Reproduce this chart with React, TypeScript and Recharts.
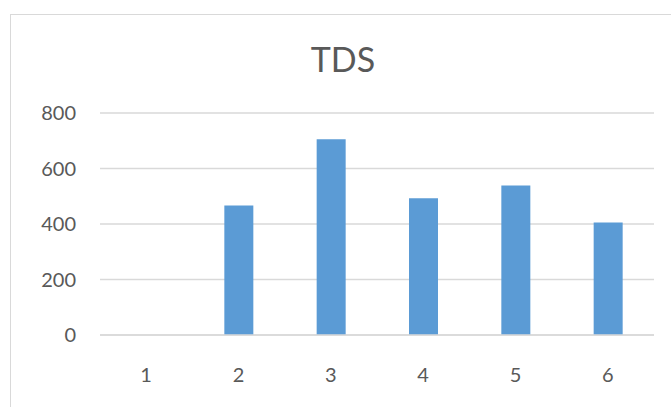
import { BarChart, Bar, XAxis, YAxis, CartesianGrid } from 'recharts';

const categories = ['1', '2', '3', '4', '5', '6'];
const tdsValues = [0, 467, 705, 493, 539, 405];
const yTicks = [0, 200, 400, 600, 800];

const data = categories.map((name, i) => ({ name, tds: tdsValues[i] }));

const FONT = 'Lato, "Open Sans", sans-serif';
const TEXT = '#595959';
const LINE = '#d9d9d9';

export default function App() {
  return (
    <div
      style={{
        position: 'absolute',
        left: 0,
        top: 0,
        width: 671,
        height: 407,
        background: '#ffffff',
        overflow: 'hidden',
        fontFamily: FONT,
      }}
    >
      {/* chart frame, only top and left edges are visible in the crop */}
      <div
        style={{
          position: 'absolute',
          left: 10,
          top: 14,
          width: 700,
          height: 420,
          borderLeft: `1.5px solid ${LINE}`,
          borderTop: `1.5px solid ${LINE}`,
        }}
      />
      <div
        style={{
          position: 'absolute',
          left: 0,
          width: 686,
          top: 39,
          textAlign: 'center',
          fontSize: 34,
          color: TEXT,
          lineHeight: '40px',
        }}
      >
        TDS
      </div>
      <BarChart
        width={671}
        height={407}
        data={data}
        margin={{ top: 113, right: 17, left: 0, bottom: 0 }}
        style={{ position: 'absolute', left: 0, top: 0 }}
      >
        <CartesianGrid vertical={false} stroke={LINE} strokeWidth={1.5} />
        <XAxis
          dataKey="name"
          height={72}
          axisLine={{ stroke: LINE, strokeWidth: 1.5 }}
          tickLine={false}
          tickSize={0}
          tickMargin={33}
          tick={{ fill: TEXT, fontSize: 20, fontFamily: FONT }}
        />
        <YAxis
          width={100}
          domain={[0, 800]}
          ticks={yTicks}
          axisLine={false}
          tickLine={false}
          tickSize={0}
          tickMargin={24}
          tick={{ fill: TEXT, fontSize: 20, fontFamily: FONT }}
        />
        <Bar dataKey="tds" fill="#5b9bd5" barSize={29} isAnimationActive={false} />
      </BarChart>
    </div>
  );
}
